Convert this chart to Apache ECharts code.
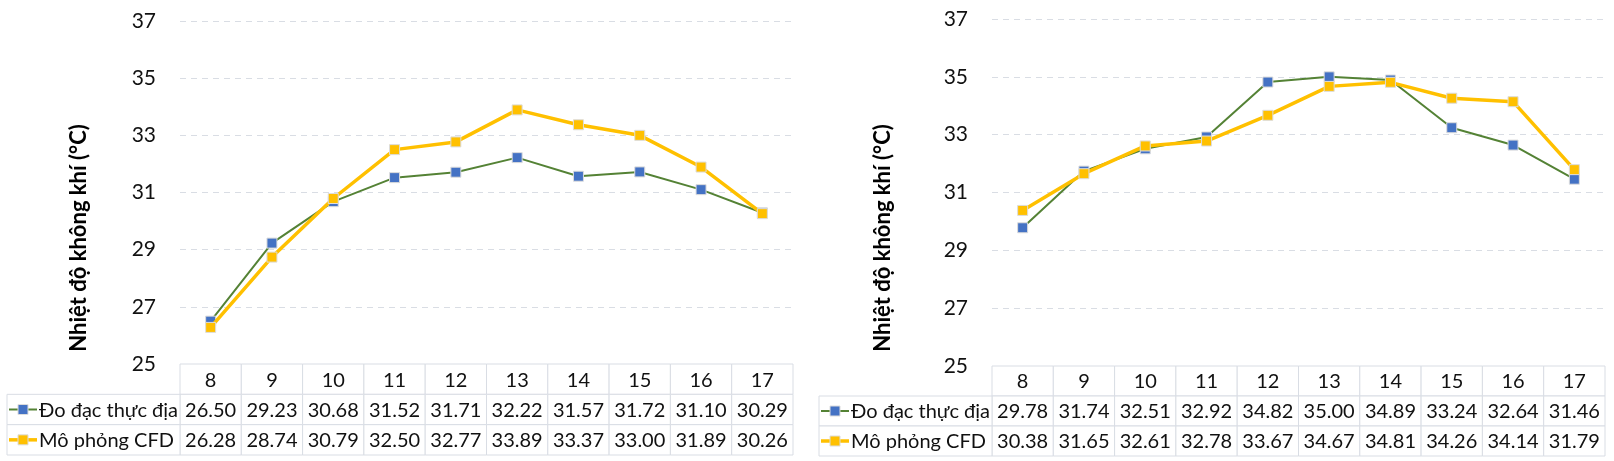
<!DOCTYPE html>
<html><head><meta charset="utf-8">
<script src="https://cdn.jsdelivr.net/npm/echarts@6/dist/echarts.min.js"></script>
<style>html,body{margin:0;padding:0;background:#fff}#c{width:1614px;height:461px}</style>
</head><body><div id="c"></div>
<script>
// ---- data ----
const hours = ['8','9','10','11','12','13','14','15','16','17'];
const seriesNames = ['Đo đạc thực địa', 'Mô phỏng CFD'];
const leftMeasured = [26.50, 29.23, 30.68, 31.52, 31.71, 32.22, 31.57, 31.72, 31.10, 30.29];
const leftCFD      = [26.28, 28.74, 30.79, 32.50, 32.77, 33.89, 33.37, 33.00, 31.89, 30.26];
const rightMeasured = [29.78, 31.74, 32.51, 32.92, 34.82, 35.00, 34.89, 33.24, 32.64, 31.46];
const rightCFD      = [30.38, 31.65, 32.61, 32.78, 33.67, 34.67, 34.81, 34.26, 34.14, 31.79];
const yTicks = [25, 27, 29, 31, 33, 35, 37];
const yTitle = 'Nhiệt độ không khí (°C)';

// ---- style ----
const FONT = 'Lato';
const TEXT = '#111';
const BORDER = '#d9dde4';
const LINE_COLORS = ['#548235', '#FFC000'];
const MARK_COLORS = ['#4472C4', '#FFC000'];
const LINE_WIDTHS = [2, 3.5];
const LEGEND_W = 173;

const panels = [
  {left: 180, top: 21, plotH: 343, tableH: 91, titleX: 79, measured: leftMeasured, cfd: leftCFD},
  {left: 992, top: 19, plotH: 347, tableH: 90, titleX: 883, measured: rightMeasured, cfd: rightCFD}
];
const PLOT_W = 613;

function makeRender(rows) {
  return function (params, api) {
    const c = api.value(0), r = api.value(1), kind = api.value(2);
    const p = api.coord([c, r]);
    const s = api.size([1, 1]);
    const w = s[0], h = s[1];
    const x0 = p[0] - w / 2, y0 = p[1] - h / 2;
    if (kind === 0) {
      return {type: 'group', children: [
        {type: 'rect', shape: {x: x0, y: y0, width: w, height: h},
         style: {fill: '#fff', stroke: BORDER, lineWidth: 1}},
        {type: 'text', x: p[0], y: p[1] + 1,
         style: {text: rows[r][c], fill: TEXT, fontSize: 20, fontFamily: FONT, align: 'center', verticalAlign: 'middle'}}
      ]};
    }
    const si = r - 1;
    const lx = x0 - LEGEND_W;
    return {type: 'group', children: [
      {type: 'rect', shape: {x: lx, y: y0, width: LEGEND_W, height: h},
       style: {fill: '#fff', stroke: BORDER, lineWidth: 1}},
      {type: 'line', shape: {x1: lx + 2, y1: p[1], x2: lx + 30, y2: p[1]},
       style: {stroke: LINE_COLORS[si], lineWidth: LINE_WIDTHS[si]}},
      {type: 'rect', shape: {x: lx + 11, y: p[1] - 5, width: 10, height: 10},
       style: {fill: MARK_COLORS[si], stroke: '#dcdcdc', lineWidth: 1}},
      {type: 'text', x: lx + 32, y: p[1] + 1,
       style: {text: seriesNames[si], fill: TEXT, fontSize: 20, fontFamily: FONT, align: 'left', verticalAlign: 'middle'}}
    ]};
  };
}

const grid = [], xAxis = [], yAxis = [], series = [], graphic = [];
panels.forEach((pn, i) => {
  const gp = 2 * i, gt = 2 * i + 1;
  grid.push({left: pn.left, top: pn.top, width: PLOT_W, height: pn.plotH});
  grid.push({left: pn.left, top: pn.top + pn.plotH, width: PLOT_W, height: pn.tableH});
  xAxis.push({gridIndex: gp, type: 'category', data: hours, boundaryGap: true,
    axisLine: {show: false}, axisTick: {show: false}, axisLabel: {show: false}, splitLine: {show: false}});
  xAxis.push({gridIndex: gt, type: 'category', data: hours, boundaryGap: true, show: false});
  yAxis.push({gridIndex: gp, type: 'value', min: yTicks[0], max: yTicks[yTicks.length - 1],
    interval: yTicks[1] - yTicks[0],
    axisLine: {show: false}, axisTick: {show: false},
    axisLabel: {fontSize: 21, fontFamily: FONT, color: TEXT, margin: 24},
    splitLine: {show: true, lineStyle: {color: BORDER, width: 1, type: [6, 5]}}});
  yAxis.push({gridIndex: gt, type: 'category', data: ['h', 'a', 'b'], inverse: true, show: false});
  [pn.measured, pn.cfd].forEach((vals, si) => {
    series.push({type: 'line', name: seriesNames[si], xAxisIndex: gp, yAxisIndex: gp, data: vals,
      symbol: 'rect', symbolSize: 10, showAllSymbol: true,
      lineStyle: {color: LINE_COLORS[si], width: LINE_WIDTHS[si]},
      itemStyle: {color: MARK_COLORS[si], borderColor: '#dcdcdc', borderWidth: 1},
      z: 3 + si});
  });
  const rows = [hours, pn.measured.map(v => v.toFixed(2)), pn.cfd.map(v => v.toFixed(2))];
  const tdata = [];
  for (let r = 0; r < 3; r++) for (let c = 0; c < hours.length; c++) tdata.push([c, r, 0]);
  tdata.push([0, 1, 1], [0, 2, 1]);
  series.push({type: 'custom', xAxisIndex: gt, yAxisIndex: gt, data: tdata,
    renderItem: makeRender(rows), clip: false, silent: true, z: 1});
  graphic.push({type: 'text', x: pn.titleX, y: 238, rotation: Math.PI / 2,
    style: {text: yTitle, fill: '#000', font: 'bold 22px ' + FONT, align: 'center', verticalAlign: 'middle'}});
});

const chart = echarts.init(document.getElementById('c'), null, {renderer: 'canvas'});
chart.setOption({animation: false, backgroundColor: '#fff', grid, xAxis, yAxis, series, graphic, tooltip: {show: false}});
</script>
</body></html>
